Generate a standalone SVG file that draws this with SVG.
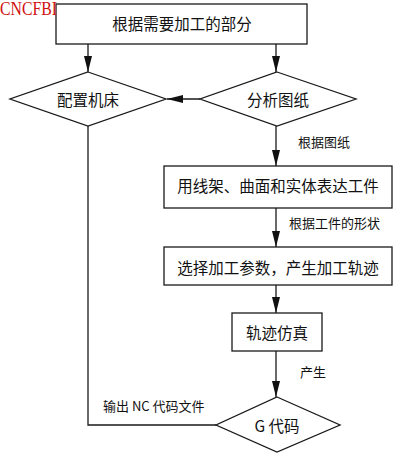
<svg xmlns="http://www.w3.org/2000/svg" width="400" height="456" viewBox="0 0 400 456">
<style>
.s{fill:#fff;stroke:#1a1a1a;stroke-width:1.3}
.t{font-family:"Noto Sans CJK SC","Liberation Serif",serif;font-size:15.5px;fill:#111;text-anchor:middle;dominant-baseline:central}
.l{font-family:"Noto Sans CJK SC","Liberation Serif",serif;font-size:13px;fill:#111;dominant-baseline:central}
.c{fill:none;stroke:#1a1a1a;stroke-width:1.3}
</style>
<defs>
<marker id="a" markerUnits="userSpaceOnUse" markerWidth="17" markerHeight="9" refX="16" refY="4" orient="auto">
<path d="M0,0 L16,4 L0,8 z" fill="#111"/>
</marker>
</defs>
<rect width="400" height="456" fill="#fff"/>
<g id="connectors">
<path class="c" d="M88,44 V72" marker-end="url(#a)"/>
<path class="c" d="M276,44 V72" marker-end="url(#a)"/>
<path class="c" d="M200,99 H167" marker-end="url(#a)"/>
<path class="c" d="M276,126 V166" marker-end="url(#a)"/>
<path class="c" d="M276,208 V247" marker-end="url(#a)"/>
<path class="c" d="M276,285 V313" marker-end="url(#a)"/>
<path class="c" d="M276,351 V397" marker-end="url(#a)"/>
<path class="c" d="M88,126 V425 H216"/>
<text class="l" x="298" y="141">根据图纸</text>
<text class="l" x="289" y="222">根据工件的形状</text>
<text class="l" x="300" y="371">产生</text>
<text class="l" x="103" y="405">输出 NC 代码文件</text>
</g>
<g id="n1"><rect class="s" x="56" y="4" width="251" height="40"/><text class="t" x="182" y="23">根据需要加工的部分</text></g>
<g id="n2"><polygon class="s" points="88,72 166,99 88,126 10,99"/><text class="t" x="88" y="99">配置机床</text></g>
<g id="n3"><polygon class="s" points="277,72 356,99 277,126 200,99"/><text class="t" x="278" y="99">分析图纸</text></g>
<g id="n4"><rect class="s" x="164" y="166" width="228" height="42"/><text class="t" x="278" y="185">用线架、曲面和实体表达工件</text></g>
<g id="n5"><rect class="s" x="164" y="247" width="228" height="38"/><text class="t" x="278" y="267">选择加工参数，产生加工轨迹</text></g>
<g id="n6"><rect class="s" x="232" y="313" width="90" height="38"/><text class="t" x="277" y="332">轨迹仿真</text></g>
<g id="n7"><polygon class="s" points="277,397 340,425 277,452 216,425"/><text class="t" x="277" y="425">G 代码</text></g>
<text x="0" y="15" font-family="Liberation Serif,serif" font-size="18" fill="#d01010" textLength="57" lengthAdjust="spacingAndGlyphs">CNCFBI</text>
</svg>
